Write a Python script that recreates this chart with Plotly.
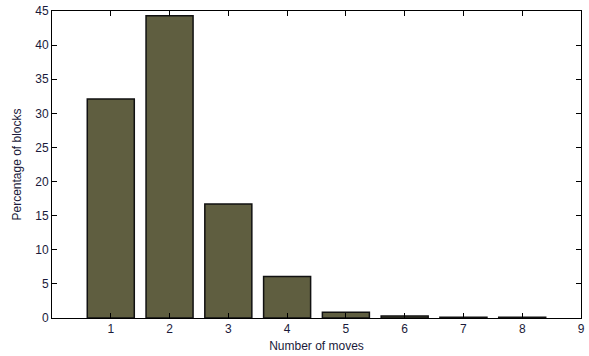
import plotly.graph_objects as go

moves = [1, 2, 3, 4, 5, 6, 7, 8]
percent = [32.1, 44.3, 16.7, 6.1, 0.85, 0.3, 0.1, 0.1]
x_ticks = [1, 2, 3, 4, 5, 6, 7, 8, 9]
y_ticks = [0, 5, 10, 15, 20, 25, 30, 35, 40, 45]

fig = go.Figure()
fig.add_trace(go.Bar(
    x=moves, y=percent, width=0.8,
    marker=dict(color="#5f5e40", line=dict(color="#111111", width=1.5)),
))

font = dict(family="Liberation Sans, Arial, sans-serif", size=12, color="#1a1a3a")
fig.update_layout(
    width=589, height=356,
    margin=dict(l=52, r=4, t=10, b=38),
    paper_bgcolor="white", plot_bgcolor="white",
    showlegend=False, font=font,
    xaxis=dict(range=[0, 9], tickvals=x_ticks, ticks="inside", ticklen=5,
               tickcolor="black", showline=True, linecolor="black", linewidth=1,
               mirror="ticks", showgrid=False, zeroline=False,
               title=dict(text="Number of moves", standoff=6, font=dict(size=12, color="#1a1a3a"))),
    yaxis=dict(range=[0, 45], tickvals=y_ticks, ticks="inside", ticklen=5,
               tickcolor="black", showline=True, linecolor="black", linewidth=1,
               mirror="ticks", showgrid=False, zeroline=False,
               title=dict(text="Percentage of blocks", standoff=11, font=dict(size=12, color="#1a1a3a"))),
)
fig.write_html("out.html")
